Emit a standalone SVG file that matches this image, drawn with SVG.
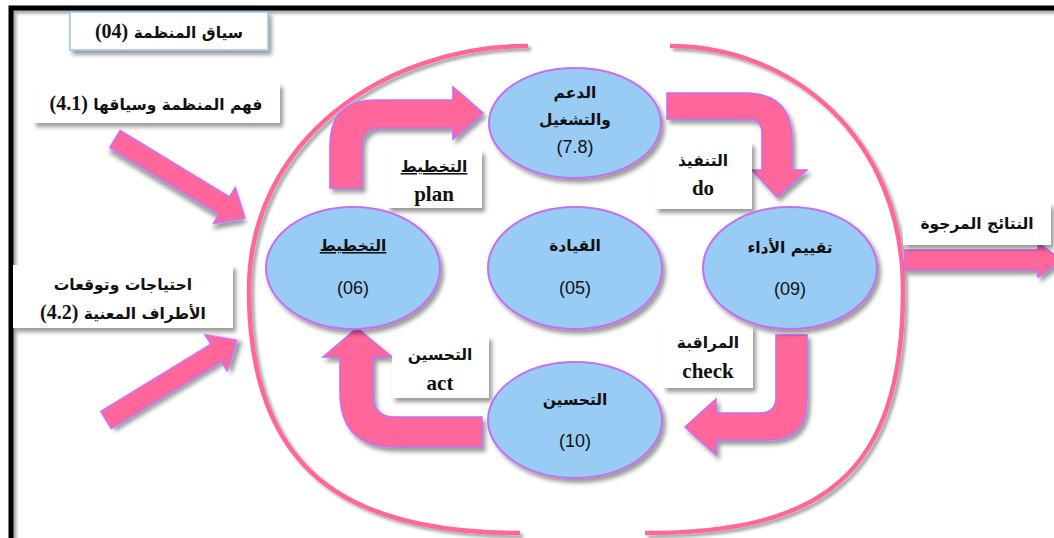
<svg xmlns="http://www.w3.org/2000/svg" width="1054" height="538" viewBox="0 0 1054 538">
<defs>
<filter id="sh" x="-20%" y="-20%" width="150%" height="150%">
<feDropShadow dx="3" dy="4" stdDeviation="2" flood-color="#000" flood-opacity="0.4"/>
</filter>
<filter id="shl" x="-10%" y="-10%" width="130%" height="130%">
<feDropShadow dx="3" dy="3" stdDeviation="1.5" flood-color="#000" flood-opacity="0.35"/>
</filter>
<style>
.box{fill:#fff;filter:url(#sh);}
.ell{fill:#99CCF5;stroke:#C46EF2;stroke-width:2;filter:url(#sh);}
.arr{fill:#FF6699;stroke:#C46EF2;stroke-width:1.5;filter:url(#sh);}
.ring{fill:none;stroke:#FF6699;stroke-width:4.5;stroke-linecap:butt;filter:url(#shl);}
.ar{font-family:"DejaVu Sans","Noto Sans",sans-serif;font-weight:bold;font-size:15.5px;fill:#111;text-anchor:middle;direction:rtl;unicode-bidi:embed;}
.lt{font-family:"Liberation Serif",serif;font-weight:bold;font-size:21px;fill:#111;text-anchor:middle;}
.tn{font-family:"Liberation Serif",serif;font-weight:bold;font-size:20px;}
.num{font-family:"Liberation Sans",Arial,sans-serif;font-size:18px;fill:#111;text-anchor:middle;}
.u{text-decoration:underline;}
</style>
</defs>
<rect x="0" y="0" width="1054" height="538" fill="#fff"/>
<path d="M11,538 L11,8 L1054,8" fill="none" stroke="#000" stroke-width="5" filter="url(#shl)"/>

<g id="ring">
<path class="ring" d="M528,46 C385,46 249,140 249,290 C249,470 345,533 520,533"/>
<path class="ring" d="M670,46 C790,46 903,136 903,290 C903,477 820,533 645,533"/>
</g>

<g id="connectors">
<path class="arr" transform="translate(115,139) rotate(31.3)" d="M0,-10 L128,-10 L128,-21 L152,0 L128,21 L128,10 L0,10 Z"/>
<path class="arr" transform="translate(106,420) rotate(-31.4)" d="M0,-10 L129,-10 L129,-21 L153,0 L129,21 L129,10 L0,10 Z"/>
<path class="arr" d="M330,188 L330,146 Q330,100 376,100 L453,100 L453,87 L483,113 L453,139 L453,128 L380,128 Q362,128 362,146 L362,188 Z"/>
<path class="arr" d="M667,93 L745,93 Q792,93 792,140 L792,170 L807,170 L777,197 L752,170 L762,170 L762,133 Q762,119 748,119 L667,119 Z"/>
<path class="arr" d="M776,335 L807,335 L807,400 Q807,440 767,440 L716,440 L716,455 L685,427 L716,399 L716,413 L760,413 Q776,413 776,397 Z"/>
<path class="arr" d="M482,417 L395,417 Q373,417 373,395 L373,357 L392,357 L357,328 L323,357 L340,357 L340,392 Q340,447 395,447 L482,447 Z"/>
<path class="arr" d="M905,250 L1038,250 L1038,243 L1062,260 L1038,277 L1038,270 L905,270 Z"/>
</g>

<g id="n04">
<rect class="box" x="70" y="12" width="198" height="38" stroke="#9DC3E6" stroke-width="1.5"/>
<text class="ar" x="169" y="38" font-size="17">سياق المنظمة <tspan class="tn">(04)</tspan></text>
</g>
<g id="n41">
<rect class="box" x="33" y="83" width="247" height="40"/>
<text class="ar" x="156" y="110" font-size="17">فهم المنظمة وسياقها <tspan class="tn">(4.1)</tspan></text>
</g>
<g id="n42">
<rect class="box" x="13" y="265" width="220" height="63"/>
<text class="ar" x="123" y="290" font-size="17">احتياجات وتوقعات</text>
<text class="ar" x="123" y="319" font-size="17">الأطراف المعنية <tspan class="tn">(4.2)</tspan></text>
</g>
<g id="out">
<rect class="box" x="903" y="203" width="148" height="42"/>
<text class="ar" x="977" y="229" font-size="16">النتائج المرجوة</text>
</g>

<g id="lplan">
<rect class="box" x="387" y="150" width="95" height="58"/>
<text class="ar u" x="434" y="172">التخطيط</text>
<text class="lt" x="434" y="201">plan</text>
</g>
<g id="ldo">
<rect class="box" x="655" y="142" width="97" height="67"/>
<text class="ar" x="703" y="166">التنفيذ</text>
<text class="lt" x="703" y="195">do</text>
</g>
<g id="lcheck">
<rect class="box" x="663" y="325" width="90" height="63"/>
<text class="ar" x="708" y="348">المراقبة</text>
<text class="lt" x="708" y="378">check</text>
</g>
<g id="lact">
<rect class="box" x="392" y="336" width="97" height="62"/>
<text class="ar" x="440" y="360">التحسين</text>
<text class="lt" x="440" y="390">act</text>
</g>

<g id="e78">
<ellipse class="ell" cx="575" cy="123" rx="86" ry="55"/>
<text class="ar" x="575" y="98">الدعم</text>
<text class="ar" x="575" y="125">والتشغيل</text>
<text class="num" x="575" y="153">(7.8)</text>
</g>
<g id="e06">
<ellipse class="ell" cx="353" cy="268" rx="87" ry="61"/>
<text class="ar u" x="353" y="251">التخطيط</text>
<text class="num" x="353" y="294">(06)</text>
</g>
<g id="e05">
<ellipse class="ell" cx="575" cy="268" rx="87" ry="61"/>
<text class="ar" x="575" y="251">القيادة</text>
<text class="num" x="575" y="294">(05)</text>
</g>
<g id="e09">
<ellipse class="ell" cx="790" cy="268" rx="87" ry="61"/>
<text class="ar" x="790" y="253">تقييم الأداء</text>
<text class="num" x="790" y="295">(09)</text>
</g>
<g id="e10">
<ellipse class="ell" cx="575" cy="420" rx="87" ry="58"/>
<text class="ar" x="575" y="405">التحسين</text>
<text class="num" x="575" y="447">(10)</text>
</g>
</svg>
